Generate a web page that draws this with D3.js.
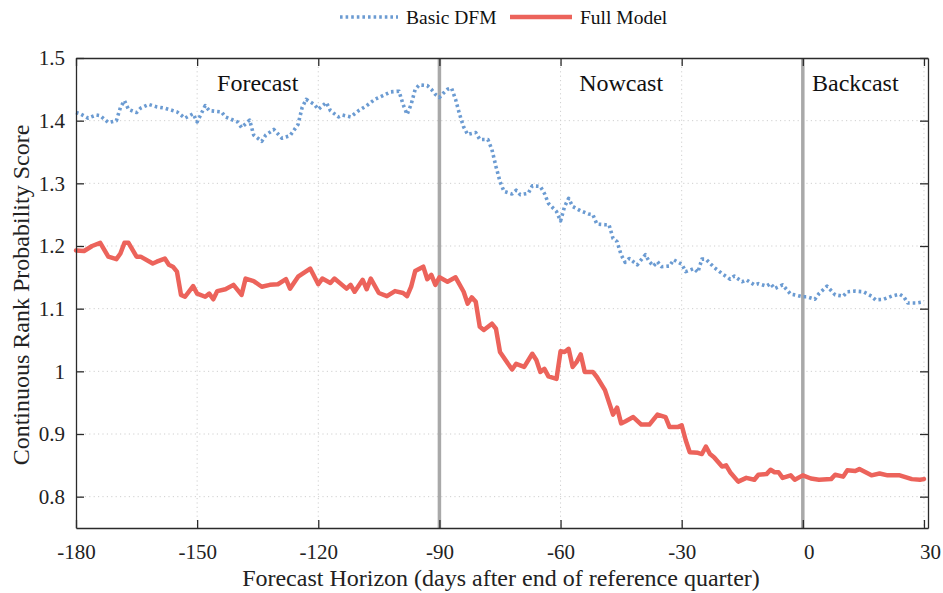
<!DOCTYPE html>
<html>
<head>
<meta charset="utf-8">
<script src="https://cdn.jsdelivr.net/npm/d3@7"></script>
<style>
  html, body { margin: 0; padding: 0; background: #fff; }
  svg { display: block; font-family: "Liberation Serif", "Times New Roman", serif; }
</style>
</head>
<body>
<svg id="chart" width="943" height="593"></svg>
<script>
// Forecast horizon (days after end of reference quarter) and CRPS values
const dfmDays = [-180,-179,-177,-175,-174,-172,-170,-169,-168,-167,-165,-164,-162,-160,-158,-155,-153,-151,-150,-148,-147,-144,-143,-140,-139,-137,-136,-134,-133,-131,-129,-127,-125,-124,-123,-121,-120,-118,-117,-115,-114,-112,-110,-108,-106,-104,-102,-100,-99,-98,-97,-96,-95,-93,-92,-91,-90,-89,-88,-87,-86,-85,-84,-83,-81,-80,-78,-77,-76,-75,-74,-72,-71,-70,-68,-67,-65,-64,-63,-61,-60,-59,-58,-57,-55,-53,-52,-51,-49,-48,-47,-46,-45,-44,-43,-42,-41,-39,-38,-37,-36,-35,-33,-32,-30,-29,-27,-26,-25,-24,-22,-20,-18,-17,-15,-14,-12,-11,-9,-8,-7,-5,-3,-2,0,1,3,4,6,8,10,11,13,15,17,18,20,22,24,25,26,28,30];
const dfmCrps = [1.413,1.411,1.404,1.409,1.408,1.397,1.400,1.421,1.432,1.418,1.413,1.420,1.426,1.422,1.420,1.414,1.404,1.411,1.398,1.424,1.416,1.414,1.406,1.398,1.389,1.401,1.377,1.367,1.377,1.386,1.372,1.376,1.394,1.421,1.434,1.426,1.418,1.429,1.416,1.406,1.409,1.406,1.416,1.424,1.434,1.440,1.446,1.447,1.426,1.410,1.426,1.450,1.457,1.456,1.450,1.442,1.437,1.444,1.450,1.452,1.434,1.410,1.390,1.378,1.381,1.370,1.370,1.354,1.327,1.303,1.287,1.283,1.289,1.282,1.284,1.296,1.295,1.284,1.268,1.255,1.240,1.263,1.276,1.263,1.256,1.251,1.250,1.235,1.234,1.234,1.212,1.207,1.186,1.174,1.180,1.175,1.170,1.186,1.175,1.168,1.175,1.167,1.168,1.178,1.171,1.159,1.164,1.158,1.179,1.179,1.166,1.156,1.147,1.152,1.143,1.146,1.138,1.140,1.136,1.140,1.132,1.138,1.123,1.122,1.119,1.119,1.115,1.124,1.136,1.122,1.120,1.127,1.128,1.127,1.120,1.114,1.115,1.120,1.123,1.119,1.109,1.109,1.111];

const fullDays = [-180,-178,-176,-174,-172,-170,-169,-168,-167,-165,-164,-161,-160,-158,-157,-156,-155,-154,-153,-151,-150,-148,-147,-146,-145,-143,-141,-139,-138,-136,-134,-132,-130,-128,-127,-125,-122,-120,-119,-117,-116,-113,-112,-111,-109,-108,-107,-105,-103,-101,-99,-98,-97,-96,-94,-93,-92,-91,-90,-88,-86,-84,-83,-82,-81,-80,-79,-77,-76,-75,-73,-72,-71,-69,-67,-66,-65,-64,-63,-61,-60,-59,-58,-57,-56,-55,-54,-52,-51,-49,-47,-46,-45,-44,-42,-40,-38,-36,-34,-33,-31,-30,-29,-28,-26,-25,-24,-23,-22,-20,-19,-18,-16,-14,-12,-11,-9,-8,-7,-6,-5,-3,-2,0,2,4,7,8,10,11,13,14,17,19,21,24,27,29,30];
const fullCrps = [1.193,1.192,1.200,1.205,1.183,1.179,1.188,1.205,1.205,1.183,1.183,1.172,1.175,1.180,1.170,1.167,1.159,1.122,1.119,1.136,1.124,1.119,1.124,1.115,1.128,1.131,1.138,1.122,1.148,1.144,1.135,1.138,1.139,1.147,1.132,1.151,1.164,1.139,1.148,1.141,1.148,1.132,1.138,1.127,1.146,1.131,1.148,1.125,1.120,1.128,1.125,1.120,1.135,1.160,1.167,1.147,1.154,1.138,1.150,1.143,1.150,1.127,1.108,1.118,1.111,1.071,1.066,1.076,1.068,1.031,1.012,1.003,1.012,1.007,1.028,1.018,0.999,1.004,0.992,0.988,1.032,1.031,1.036,1.007,1.015,1.027,0.999,0.999,0.991,0.970,0.931,0.942,0.917,0.920,0.927,0.915,0.915,0.931,0.927,0.911,0.911,0.914,0.890,0.871,0.870,0.868,0.880,0.868,0.863,0.848,0.850,0.839,0.824,0.830,0.827,0.835,0.836,0.843,0.839,0.839,0.830,0.834,0.827,0.834,0.829,0.827,0.828,0.835,0.832,0.842,0.841,0.844,0.834,0.837,0.834,0.834,0.828,0.827,0.828];

const xTicks = [-180, -150, -120, -90, -60, -30, 0, 30];
const yTicks = [0.8, 0.9, 1.0, 1.1, 1.2, 1.3, 1.4, 1.5];
const phaseBounds = [-90, 0];
const phaseLabels = [
  { text: "Forecast", day: -135 },
  { text: "Nowcast", day: -45 },
  { text: "Backcast", day: 13 }
];
const seriesNames = ["Basic DFM", "Full Model"];

const blue = "#6b9bd2";
const red = "#ec635b";
const axisColor = "#2b2b2b";

const svg = d3.select("#chart");
const plotLeft = 76, plotRight = 928, plotTop = 58, plotBottom = 528;

const x = d3.scaleLinear().domain([-180, 31]).range([plotLeft, plotRight]);
const y = d3.scaleLinear().domain([0.75, 1.5]).range([plotBottom, plotTop]);

// dotted grid
const grid = svg.append("g");
grid.selectAll("line.gx").data(xTicks.filter(t => t > -180 && t < 31)).join("line")
  .attr("x1", d => x(d)).attr("x2", d => x(d)).attr("y1", plotTop).attr("y2", plotBottom)
  .attr("stroke", "#cfcfcf").attr("stroke-width", 1).attr("stroke-dasharray", "1.2,3.2");
grid.selectAll("line.gy").data(yTicks.filter(t => t < 1.5)).join("line")
  .attr("x1", plotLeft).attr("x2", plotRight).attr("y1", d => y(d)).attr("y2", d => y(d))
  .attr("stroke", "#cfcfcf").attr("stroke-width", 1).attr("stroke-dasharray", "1.2,3.2");

// phase boundaries
svg.append("g").selectAll("line").data(phaseBounds).join("line")
  .attr("x1", d => x(d)).attr("x2", d => x(d)).attr("y1", plotTop).attr("y2", plotBottom)
  .attr("stroke", "#a9a9a9").attr("stroke-width", 3.5);

// phase labels
svg.append("g").selectAll("text").data(phaseLabels).join("text")
  .attr("x", d => x(d.day)).attr("y", 91)
  .attr("text-anchor", "middle").attr("font-size", 24).attr("fill", "#111")
  .text(d => d.text);

// series lines
const line = d3.line().x(d => x(d[0])).y(d => y(d[1])).curve(d3.curveLinear);
const dfmPts = dfmDays.map((d, i) => [d, dfmCrps[i]]);
const fullPts = fullDays.map((d, i) => [d, fullCrps[i]]);

svg.append("path").datum(dfmPts).attr("d", line)
  .attr("fill", "none").attr("stroke", blue).attr("stroke-width", 3.6)
  .attr("stroke-dasharray", "2.6,3").attr("stroke-linejoin", "round");
svg.append("path").datum(fullPts).attr("d", line)
  .attr("fill", "none").attr("stroke", red).attr("stroke-width", 4.5)
  .attr("stroke-linejoin", "round").attr("stroke-linecap", "round");

// axes with inward ticks on all four sides
const fmtY = d => (Math.abs(d - 1) < 1e-9 ? "1" : d3.format(".1f")(d));
const styleAxis = g => {
  g.selectAll(".domain").attr("stroke", axisColor).attr("stroke-width", 1.3);
  g.selectAll(".tick line").attr("stroke", axisColor).attr("stroke-width", 1.3);
  g.selectAll(".tick text").attr("fill", "#222").attr("font-size", 21)
    .attr("font-family", "'Liberation Serif', 'Times New Roman', serif");
};
svg.append("g").attr("transform", `translate(0,${plotBottom})`)
  .call(d3.axisBottom(x).tickValues(xTicks).tickSize(-8).tickPadding(16).tickSizeOuter(0)
    .tickFormat(d => String(d)))
  .call(styleAxis)
  .call(g => g.selectAll(".tick text").attr("dx", d => (d >= 0 ? 6 : 0)));
svg.append("g").attr("transform", `translate(0,${plotTop})`)
  .call(d3.axisTop(x).tickValues(xTicks).tickSize(-8).tickSizeOuter(0).tickFormat(""))
  .call(styleAxis);
svg.append("g").attr("transform", `translate(${plotLeft},0)`)
  .call(d3.axisLeft(y).tickValues(yTicks).tickSize(-8).tickPadding(11).tickSizeOuter(0).tickFormat(fmtY))
  .call(styleAxis);
svg.append("g").attr("transform", `translate(${plotRight},0)`)
  .call(d3.axisRight(y).tickValues(yTicks).tickSize(-8).tickSizeOuter(0).tickFormat(""))
  .call(styleAxis);

// axis titles
svg.append("text").attr("x", 501).attr("y", 586)
  .attr("text-anchor", "middle").attr("font-size", 24).attr("fill", "#222")
  .text("Forecast Horizon (days after end of reference quarter)");
svg.append("text").attr("transform", `translate(29,295) rotate(-90)`)
  .attr("text-anchor", "middle").attr("font-size", 24).attr("fill", "#222")
  .text("Continuous Rank Probability Score");

// legend
const legend = svg.append("g");
const legendItems = [
  { name: seriesNames[0], color: blue, x0: 340, len: 58, dash: "2.6,3", w: 3.6 },
  { name: seriesNames[1], color: red, x0: 510, len: 62, dash: null, w: 4.5 }
];
legendItems.forEach(it => {
  legend.append("line").attr("x1", it.x0).attr("x2", it.x0 + it.len).attr("y1", 17).attr("y2", 17)
    .attr("stroke", it.color).attr("stroke-width", it.w)
    .attr("stroke-dasharray", it.dash);
  legend.append("text").attr("x", it.x0 + it.len + 8).attr("y", 23.5)
    .attr("font-size", 19.5).attr("fill", "#111")
    .text(it.name);
});
</script>
</body>
</html>
